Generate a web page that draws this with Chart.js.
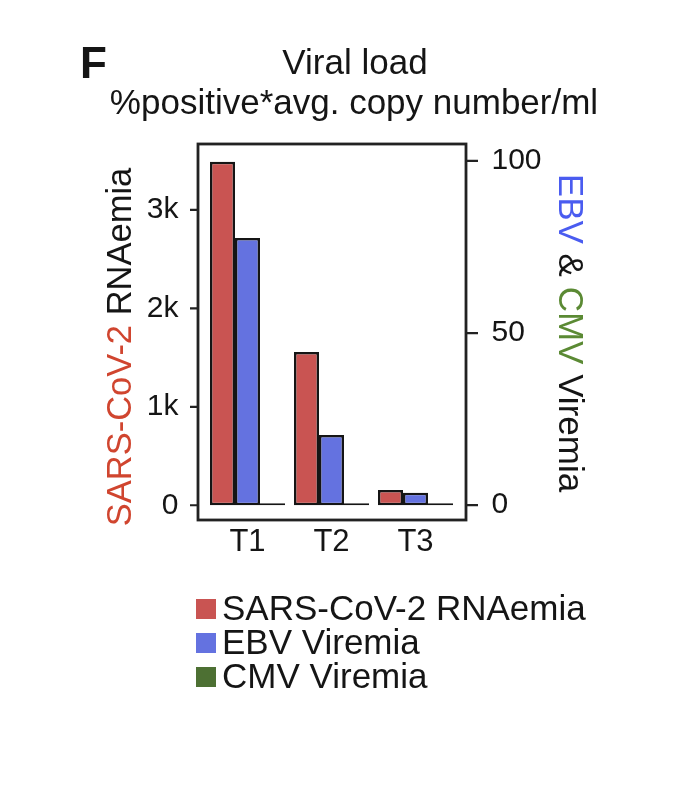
<!DOCTYPE html>
<html>
<head>
<meta charset="utf-8">
<script src="https://cdn.jsdelivr.net/npm/chart.js@4/dist/chart.umd.min.js"></script>
<style>
  html, body { margin: 0; padding: 0; background: #fff; }
  #viralLoad { display: block; }
</style>
</head>
<body>
<canvas id="viralLoad" width="676" height="802"></canvas>
<script>
// ---------------------------------------------------------
// DATOS
// ---------------------------------------------------------
const categories = ['T1', 'T2', 'T3'];
const sarsValues = [3490, 1557, 154];     // copias/ml (eje izq.)
const ebvValues  = [77.6, 20.4, 3.6];     // eje der.
const cmvValues  = [0.6, 0.6, 0.6];       // practicamente cero
const leftTicks  = [0, 1000, 2000, 3000];
const rightTicks = [0, 50, 100];

const FONT = '"Liberation Sans", Arial, Helvetica, sans-serif';
const INK  = '#151515';

// ---------------------------------------------------------
// PLUGIN: marco, titulos, leyenda
// ---------------------------------------------------------
const decor = {
    id: 'decor',
    afterDraw(chart) {
        const { ctx, chartArea: a, scales } = chart;
        const boxL = a.left - 7.5, boxR = a.right + 8.5;

        ctx.save();
        // marco
        ctx.strokeStyle = '#222';
        ctx.lineWidth = 2.8;
        ctx.strokeRect(boxL, a.top, boxR - boxL, a.bottom - a.top);

        // marcas de los ejes
        ctx.lineWidth = 2.2;
        ctx.beginPath();
        leftTicks.forEach(v => {
            const y = scales.y.getPixelForValue(v);
            ctx.moveTo(boxL - 8, y); ctx.lineTo(boxL, y);
        });
        rightTicks.forEach(v => {
            const y = scales.y1.getPixelForValue(v);
            ctx.moveTo(boxR, y); ctx.lineTo(boxR + 12, y);
        });
        ctx.stroke();

        // panel y titulo
        ctx.fillStyle = INK;
        ctx.textBaseline = 'alphabetic';
        ctx.textAlign = 'left';
        ctx.font = `bold 44px ${FONT}`;
        ctx.fillText('F', 80, 78);

        ctx.textAlign = 'center';
        ctx.font = `35px ${FONT}`;
        ctx.fillText('Viral load', 355, 74);
        ctx.fillText('%positive*avg. copy number/ml', 354, 114);

        // titulos de ejes (multicolor)
        const drawParts = (x, y, rot, size, parts) => {
            ctx.save();
            ctx.translate(x, y);
            ctx.rotate(rot);
            ctx.font = `${size}px ${FONT}`;
            ctx.textAlign = 'left';
            ctx.textBaseline = 'middle';
            const total = parts.reduce((s, p) => s + ctx.measureText(p[0]).width, 0);
            let cx = -total / 2;
            parts.forEach(([t, c]) => {
                ctx.fillStyle = c;
                ctx.fillText(t, cx, 0);
                cx += ctx.measureText(t).width;
            });
            ctx.restore();
        };
        drawParts(121, 347, -Math.PI / 2, 34.5, [['SARS-CoV-2', '#d0452f'], [' RNAemia', INK]]);
        drawParts(569, 333, Math.PI / 2, 35, [['EBV', '#4a5cf0'], [' & ', INK], ['CMV', '#5b8a34'], [' Viremia', INK]]);

        // leyenda
        ctx.font = `35px ${FONT}`;
        ctx.textAlign = 'left';
        ctx.textBaseline = 'middle';
        chart.data.datasets.forEach((ds, i) => {
            const cy = 609 + i * 34;
            ctx.fillStyle = ds.backgroundColor;
            ctx.fillRect(196, cy - 10, 20, 20);
            ctx.fillStyle = INK;
            ctx.fillText(ds.label, 222, cy + 1);
        });
        ctx.restore();
    }
};

// ---------------------------------------------------------
// GRAFICO
// ---------------------------------------------------------
const barStyle = { borderColor: '#151515', borderWidth: 2.5, borderSkipped: false,
                   categoryPercentage: 0.893, barPercentage: 1.0 };

new Chart(document.getElementById('viralLoad'), {
    type: 'bar',
    data: {
        labels: categories,
        datasets: [
            { label: 'SARS-CoV-2 RNAemia', data: sarsValues, yAxisID: 'y',  backgroundColor: '#c95452', ...barStyle },
            { label: 'EBV Viremia',        data: ebvValues,  yAxisID: 'y1', backgroundColor: '#6472e0', ...barStyle },
            { label: 'CMV Viremia',        data: cmvValues,  yAxisID: 'y1', backgroundColor: '#4d7033', ...barStyle }
        ]
    },
    options: {
        responsive: false,
        animation: false,
        devicePixelRatio: 1,
        layout: { padding: { top: 144, left: 0, right: 0, bottom: 0 } },
        plugins: { legend: { display: false }, tooltip: { enabled: false } },
        scales: {
            x: {
                grid: { display: false, drawTicks: false },
                border: { display: false },
                ticks: { color: INK, font: { family: FONT, size: 31 }, padding: 4 },
                afterFit: s => { s.height = 802 - 520; }
            },
            y: {
                position: 'left',
                min: -150, max: 3670,
                grid: { display: false, drawTicks: false },
                border: { display: false },
                afterBuildTicks: s => { s.ticks = leftTicks.map(v => ({ value: v })); },
                ticks: {
                    color: INK, font: { family: FONT, size: 30 }, padding: 27,
                    callback: v => v === 0 ? '0' : (v / 1000) + 'k'
                },
                afterFit: s => { s.width = 205.5; }
            },
            y1: {
                position: 'right',
                min: -4.3, max: 104.9,
                grid: { display: false, drawTicks: false },
                border: { display: false },
                afterBuildTicks: s => { s.ticks = rightTicks.map(v => ({ value: v })); },
                ticks: { color: INK, font: { family: FONT, size: 30 }, padding: 34 },
                afterFit: s => { s.width = 676 - 457.5; }
            }
        }
    },
    plugins: [decor]
});
</script>
</body>
</html>
